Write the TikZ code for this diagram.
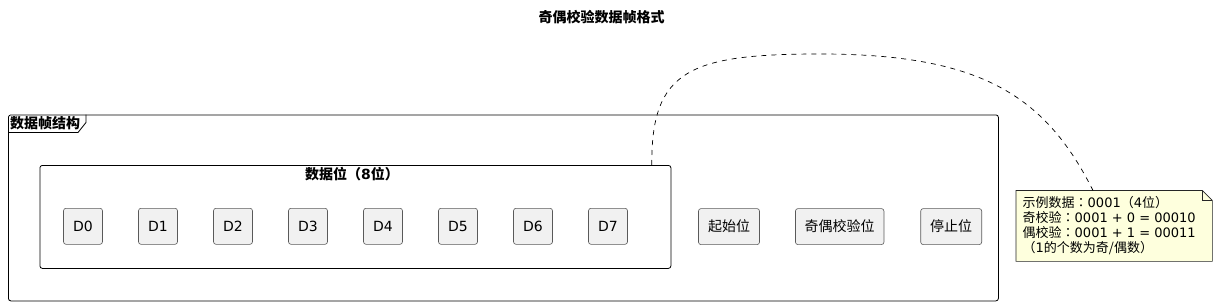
\documentclass[tikz,border=0pt]{standalone}
\usepackage{fontspec}
\setmainfont{DejaVu Sans}
\newfontfamily\cjk{Noto Sans CJK SC}
\newfontfamily\cjkjp{Noto Sans CJK JP}
\newcommand\zh[1]{{\cjk #1}}
\newcommand\zcolon{{\cjkjp ：}}
\definecolor{boxgray}{HTML}{F1F1F1}
\definecolor{boxline}{HTML}{5A5A5A}
\definecolor{noteyellow}{HTML}{FEFFDD}
\begin{document}
\begin{tikzpicture}[x=1pt,y=-1pt,
  bitbox/.style={draw=boxline, fill=boxgray, rounded corners=2.5pt, minimum height=36pt, inner sep=0pt, line width=0.6pt, font=\fontsize{14}{16}\selectfont},
  framebox/.style={draw=black, line width=0.8pt, rounded corners=2.5pt, inner sep=0pt},
  boldlabel/.style={font=\bfseries\fontsize{14}{16}\selectfont, inner sep=0pt},
  notebox/.style={draw=black!85, fill=noteyellow, line width=0.6pt},
  link/.style={draw=black, line width=0.7pt, dash pattern=on 5pt off 5pt}
]
\useasboundingbox (0,0) rectangle (1217,305);

\node[boldlabel] (title) at (601.5,17) {\zh{奇偶校验数据帧格式}};

% outer frame
\node[framebox, minimum width=990pt, minimum height=186pt, anchor=north west] (outer) at (8,114.5) {};
\draw[line width=0.8pt] ([yshift=-18pt]outer.north west) -- ++(70,0) -- ++(8,-10) -- ++(0,-8);
\node[boldlabel, anchor=west] (outerlabel) at (10,123.5) {\zh{数据帧结构}};

% inner package
\node[framebox, minimum width=631pt, minimum height=103pt, anchor=north west] (inner) at (39.5,165) {};
\node[boldlabel] (innerlabel) at (352,174.5) {\zh{数据位（}8\zh{位）}};

\foreach \i in {0,...,7}
  \node[bitbox, minimum width=39pt] (d\i) at ({83+75*\i},226.3) {D\i};

\node[bitbox, minimum width=61pt] (start) at (729,226.6) {\zh{起始位}};
\node[bitbox, minimum width=88.5pt] (parity) at (839.7,226.6) {\zh{奇偶校验位}};
\node[bitbox, minimum width=61pt] (stop) at (951.2,226.6) {\zh{停止位}};

% note
\node[anchor=north west, minimum width=196pt, minimum height=70.5pt, inner sep=0pt] (note) at (1016,190.5) {};
\draw[notebox] (note.north west) -- ([xshift=-10pt]note.north east) -- ([yshift=-10pt]note.north east) -- (note.south east) -- (note.south west) -- cycle;
\draw[notebox, fill=none] ([xshift=-10pt]note.north east) |- ([yshift=-10pt]note.north east);
\node[anchor=north west, align=left, inner sep=0pt, font=\fontsize{13}{15}\selectfont] (notetext) at (1022.5,196.5)
 {\zh{示例数据}\zcolon 0001\zh{（}4\zh{位）}\\
  \zh{奇校验}\zcolon 0001 + 0 = 00010\\
  \zh{偶校验}\zcolon 0001 + 1 = 00011\\
  \zh{（}1\zh{的个数为奇/偶数）}};

% connector
\coordinate (cs) at ([xshift=-19.5pt]inner.north east);
\coordinate (ce) at ([xshift=77pt]note.north west);
\draw[link] (cs) .. controls (651,70) and (690,54) .. (820,54) .. controls (980,54) and (1045,95) .. (ce);
\end{tikzpicture}
\end{document}
